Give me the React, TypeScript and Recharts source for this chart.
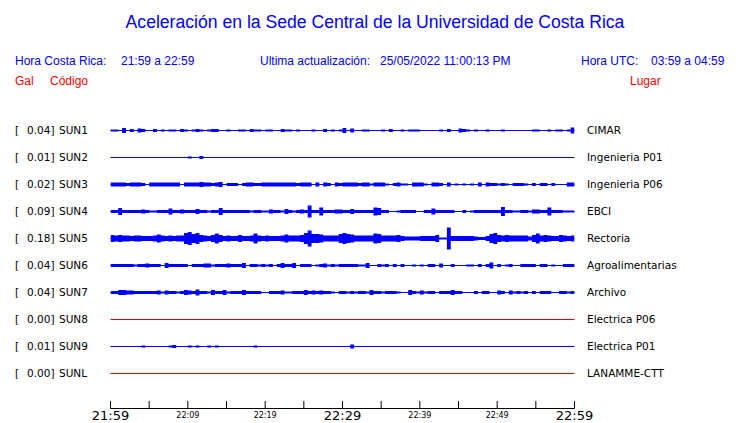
import React from 'react';
import { ComposedChart, Area, XAxis, YAxis, ReferenceLine } from 'recharts';

const STATION_CODES = ['SUN1', 'SUN2', 'SUN3', 'SUN4', 'SUN5', 'SUN6', 'SUN7', 'SUN8', 'SUN9', 'SUNL'];
const PEAK_GAL = ['0.04', '0.01', '0.02', '0.09', '0.18', '0.04', '0.04', '0.00', '0.01', '0.00'];
const PLACES = ['CIMAR', 'Ingenieria P01', 'Ingenieria P06', 'EBCI', 'Rectoria', 'Agroalimentarias', 'Archivo', 'Electrica P06', 'Electrica P01', 'LANAMME-CTT'];
const TRACE_COLORS = ['#0000ff', '#0000ff', '#0000ff', '#0000ff', '#0000ff', '#0000ff', '#0000ff', '#e00000', '#0000ff', '#e00000'];
const ROWS = [0, 1, 2, 3, 4, 5, 6, 7, 8, 9];

const TICK_MINUTES = [0, 5, 10, 15, 20, 25, 30, 35, 40, 45, 50, 55, 60];
const TICK_LABELS = ['21:59', '', '22:09', '', '22:19', '', '22:29', '', '22:39', '', '22:49', '', '22:59'];

// half-amplitude of each trace (display px) in consecutive 0.5-minute bins
const SUN1 = [
  1, 1, 0, 2.5, 0, 1.5, 0, 2, 1.5, 0,
  0, 1.5, 0, 1, 0, 1, 1, 0, 1.5, 1,
  0, 1, 1.5, 1, 0, 1, 1.5, 1.5, 0, 0,
  1, 0, 0, 1, 1, 0, 1.5, 1, 1, 0,
  1, 1, 0, 0, 1.5, 1, 1, 0, 1, 0,
  0, 0, 1, 0, 0, 1.5, 0, 1, 0, 1,
  2.5, 0, 2, 0, 0, 1, 1, 0, 0, 0,
  1, 0, 1.5, 0, 0, 1, 0, 1, 1, 1,
  0, 0, 0, 0, 0, 1, 0, 1.5, 0, 0,
  2, 1.5, 1, 0, 1, 0, 0, 1, 0, 0,
  0, 1, 0, 0, 0, 0, 0, 0, 0, 1,
  1, 0, 0, 1, 0, 1, 1, 0, 1, 3,
];
const SUN2 = [
  0, 0, 0, 0, 0, 0, 0, 0, 0, 0,
  0, 0, 0, 0, 0, 0, 0, 0, 0, 0,
  1, 0, 0, 1.5, 0, 0, 0, 0, 0, 0,
  0, 0, 0, 0, 0, 0, 0, 0, 0, 0,
  0, 0, 0, 0, 0, 0, 0, 0, 0, 0,
  0, 0, 0, 0, 0, 0, 0, 0, 0, 0,
  0, 0, 0, 0, 0, 0, 0, 0, 0, 0,
  0, 0, 0, 0, 0, 0, 0, 0, 0, 0,
  0, 0, 0, 0, 0, 0, 0, 0, 0, 0,
  0, 0, 0, 0, 0, 0, 0, 0, 0, 0,
  0, 0, 0, 0, 0, 0, 0, 0, 0, 0,
  0, 0, 0, 0, 0, 0, 0, 0, 0, 0,
];
const SUN3 = [
  2, 2, 2, 2, 1.5, 2, 2, 2, 1.5, 0,
  2, 2, 2, 2, 2, 2, 2, 2, 0, 2,
  2, 2, 2, 2.5, 2, 2, 1.5, 2, 2.5, 0,
  1.5, 1.5, 1.5, 0, 1.5, 2, 2, 1.5, 1.5, 2,
  2, 2, 2, 2, 2, 2, 2, 2, 1.5, 2,
  2, 2, 0, 2, 0, 2, 1.5, 0, 2, 1.5,
  2, 2, 2, 2, 1.5, 2, 2, 1, 2, 2,
  2, 1, 0, 1.5, 2, 1, 1, 0, 2, 2,
  2, 1, 0, 2, 2, 1.5, 0, 2, 0, 1,
  0, 1, 0, 1, 0, 2, 0, 2, 1.5, 1.5,
  1, 1.5, 1, 0, 1.5, 1.5, 1.5, 1, 0, 1.5,
  0, 1.5, 1.5, 0, 1.5, 0, 0, 0, 2, 2,
];
const SUN4 = [
  1.5, 1.5, 3.5, 1.5, 1.5, 1.5, 1.5, 1.5, 2, 1.5,
  1, 1, 1.5, 1.5, 1.5, 3, 1.5, 1.5, 2, 1.5,
  1.5, 1.5, 2.5, 1.5, 1.5, 1, 1.5, 1.5, 3.5, 1.5,
  1.5, 1.5, 1.5, 1.5, 1.5, 1.5, 1, 1.5, 1.5, 1,
  1, 2, 1.5, 1.5, 1, 2.5, 1.5, 1, 1.5, 2,
  1.5, 6, 1.5, 1.5, 4, 1.5, 1.5, 1.5, 2, 2,
  1.5, 1.5, 2.5, 1.5, 1.5, 1.5, 1.5, 1.5, 4, 3.5,
  1.5, 1.5, 0, 0, 1, 1.5, 1.5, 1.5, 1.5, 0,
  0, 1.5, 1.5, 3, 1.5, 1.5, 1.5, 1.5, 1.5, 0,
  0, 1.5, 0, 1, 1.5, 1.5, 1.5, 1.5, 1.5, 1.5,
  1.5, 4.5, 1.5, 1.5, 1, 1, 1.5, 1.5, 1, 2,
  2, 1.5, 1.5, 4, 1.5, 1.5, 1.5, 1, 1, 1,
];
const SUN5 = [
  3.5, 3, 3.5, 3, 3, 2.5, 3, 3, 2.5, 2.5,
  2.5, 3, 4, 3, 2.5, 3, 2.5, 3, 3, 5.5,
  6.5, 4.5, 5.5, 3.5, 3, 2.5, 3.5, 5, 3.5, 2.5,
  3, 2.5, 2.5, 3.5, 2.5, 2.5, 3, 5, 3, 2.5,
  3, 2.5, 2.5, 2.5, 3, 4, 3, 3, 3, 3.5,
  5.5, 8, 4.5, 4.5, 4, 3, 3, 3, 3, 4.5,
  5.5, 4.5, 4, 3, 3, 3, 3, 3, 5, 4.5,
  3, 3, 3, 3, 3.5, 2.5, 2, 2, 2, 2,
  2.5, 2.5, 2.5, 2.5, 3.5, 1, 1, 11, 2.5, 2.5,
  2.5, 2.5, 2.5, 2.5, 2, 1.5, 1.5, 2.5, 4.5, 5.5,
  3.5, 3, 3.5, 3, 3, 3, 3, 3, 2, 3.5,
  5, 3, 3.5, 3, 2.5, 2.5, 3.5, 3, 2.5, 3,
];
const SUN6 = [
  1.5, 1.5, 1.5, 1.5, 1.5, 1.5, 1, 1.5, 1.5, 2,
  1.5, 1.5, 1.5, 0, 2.5, 1.5, 1.5, 1.5, 1.5, 1.5,
  0, 1.5, 1.5, 1.5, 2, 2, 1, 1.5, 1.5, 1.5,
  2, 1.5, 1.5, 1.5, 2.5, 0, 1.5, 1.5, 1, 1.5,
  1, 1.5, 0, 1.5, 2.5, 1.5, 1.5, 2.5, 0, 1.5,
  1.5, 1.5, 0, 1, 1.5, 2, 1, 1.5, 1, 1.5,
  1.5, 1.5, 1.5, 1.5, 1, 1, 2.5, 0, 0, 1.5,
  1, 1.5, 0, 1.5, 0, 1.5, 0, 0, 1, 0,
  1, 0, 1.5, 1.5, 0, 2, 0, 0, 1.5, 0,
  0, 0, 1, 1, 0, 1.5, 0, 1.5, 3, 0,
  1.5, 0, 1, 1.5, 0, 0, 1.5, 1.5, 1.5, 1.5,
  0, 1.5, 1.5, 0, 1, 0, 0, 1.5, 1.5, 1.5,
];
const SUN7 = [
  1.5, 1.5, 2.5, 2.5, 2, 2, 1.5, 1.5, 1.5, 1.5,
  1.5, 1.5, 2, 1, 2, 1.5, 1.5, 1, 1.5, 2.5,
  2, 1.5, 3, 1.5, 1.5, 1, 2.5, 1.5, 1.5, 2.5,
  1, 1.5, 1.5, 1.5, 2.5, 1.5, 1.5, 1.5, 1.5, 0,
  0, 1.5, 1.5, 1.5, 2, 1, 1, 1.5, 1.5, 1.5,
  2.5, 1.5, 2, 1.5, 2, 1.5, 1.5, 1, 0, 1.5,
  1.5, 1, 1.5, 1, 1.5, 1.5, 1, 2.5, 1.5, 1.5,
  1, 1.5, 1.5, 1.5, 1, 0, 0, 2.5, 1.5, 1,
  2, 1, 1.5, 1.5, 0, 1.5, 1.5, 1.5, 2.5, 1.5,
  1.5, 0, 0, 0, 1.5, 0, 1.5, 1.5, 0, 0,
  2, 1.5, 0, 2, 1, 1.5, 1, 1.5, 0, 1.5,
  0, 1.5, 1.5, 1.5, 0, 0, 1.5, 1.5, 1, 1.5,
];
const SUN8 = [
  0, 0, 0, 0, 0, 0, 0, 0, 0, 0, 0, 0, 0, 0, 0, 0, 0, 0, 0, 0,
  0, 0, 0, 0, 0, 0, 0, 0, 0, 0, 0, 0, 0, 0, 0, 0, 0, 0, 0, 0,
  0, 0, 0, 0, 0, 0, 0, 0, 0, 0, 0, 0, 0, 0, 0, 0, 0, 0, 0, 0,
  0, 0, 0, 0, 0, 0, 0, 0, 0, 0, 0, 0, 0, 0, 0, 0, 0, 0, 0, 0,
  0, 0, 0, 0, 0, 0, 0, 0, 0, 0, 0, 0, 0, 0, 0, 0, 0, 0, 0, 0,
  0, 0, 0, 0, 0, 0, 0, 0, 0, 0, 0, 0, 0, 0, 0, 0, 0, 0, 0, 0,
];
const SUN9 = [
  0, 0, 0, 0, 0, 0, 0, 0, 1, 0,
  0, 0, 0, 0, 0, 1, 1.5, 0, 0, 0,
  1, 0, 1, 0, 0, 1, 0, 1, 0, 0,
  0, 0, 0, 0, 0, 0, 0, 1, 0, 0,
  0, 0, 0, 0, 0, 0, 0, 0, 0, 0,
  0, 0, 0, 0, 0, 0, 0, 0, 0, 0,
  0, 0, 2, 0, 0, 0, 0, 0, 0, 0,
  0, 0, 0, 0, 0, 0, 0, 0, 0, 0,
  0, 0, 0, 0, 0, 0, 0, 0, 0, 0,
  0, 0, 0, 0, 0, 0, 0, 0, 0, 0,
  0, 0, 0, 0, 0, 0, 0, 0, 0, 0,
  0, 0, 0, 0, 0, 0, 0, 0, 0, 0,
];
const SUNL = [
  0, 0, 0, 0, 0, 0, 0, 0, 0, 0, 0, 0, 0, 0, 0, 0, 0, 0, 0, 0,
  0, 0, 0, 0, 0, 0, 0, 0, 0, 0, 0, 0, 0, 0, 0, 0, 0, 0, 0, 0,
  0, 0, 0, 0, 0, 0, 0, 0, 0, 0, 0, 0, 0, 0, 0, 0, 0, 0, 0, 0,
  0, 0, 0, 0, 0, 0, 0, 0, 0, 0, 0, 0, 0, 0, 0, 0, 0, 0, 0, 0,
  0, 0, 0, 0, 0, 0, 0, 0, 0, 0, 0, 0, 0, 0, 0, 0, 0, 0, 0, 0,
  0, 0, 0, 0, 0, 0, 0, 0, 0, 0, 0, 0, 0, 0, 0, 0, 0, 0, 0, 0,
];

const TRACES = [SUN1, SUN2, SUN3, SUN4, SUN5, SUN6, SUN7, SUN8, SUN9, SUNL];
const BIN_MINUTES = 0.5;
const ROW_PX = 27; // px between trace rows

const chartData = Array.from({ length: SUN1.length + 1 }, (_, j) => {
  const d: any = { t: j * BIN_MINUTES };
  TRACES.forEach((tr, s) => {
    const a = tr[Math.min(j, tr.length - 1)] / ROW_PX;
    d['s' + s] = [s - a, s + a];
  });
  return d;
});

const LABEL_FONT = '"DejaVu Sans", sans-serif';
const HEAD_FONT = '"Liberation Sans", Arial, sans-serif';

const LeftTick = (props: any) => {
  const { x, y, payload } = props;
  const i = ROWS.indexOf(payload.value);
  if (i < 0) return null;
  return (
    <g fontFamily={LABEL_FONT} fontSize={10.5} fill="#000">
      <text x={x - 95.5} y={y + 3.7}>[</text>
      <text x={x - 83.5} y={y + 3.7}>{PEAK_GAL[i] + ']'}</text>
      <text x={x - 51.5} y={y + 3.7}>{STATION_CODES[i]}</text>
    </g>
  );
};

const RightTick = (props: any) => {
  const { x, y, payload } = props;
  const i = ROWS.indexOf(payload.value);
  if (i < 0) return null;
  return (
    <text x={x + 12.5} y={y + 3.7} fontFamily={LABEL_FONT} fontSize={10.5} fill="#000">
      {PLACES[i]}
    </text>
  );
};

const TimeTick = (props: any) => {
  const { x, y, payload } = props;
  const i = TICK_MINUTES.indexOf(payload.value);
  const big = payload.value % 30 === 0;
  return (
    <g>
      <line x1={x} x2={x} y1={y - 7.5} y2={y} stroke="#000" strokeWidth={1} />
      {TICK_LABELS[i] ? (
        <text
          x={x}
          y={y + (big ? 11.5 : 9)}
          textAnchor="middle"
          fontFamily={LABEL_FONT}
          fontSize={big ? 13 : 8}
          fill="#000"
        >
          {TICK_LABELS[i]}
        </text>
      ) : null}
    </g>
  );
};

const txt = (s: string, left: number, top: number, color: string, size = 12) => (
  <div
    key={s + left}
    style={{
      position: 'absolute',
      left,
      top,
      fontFamily: HEAD_FONT,
      fontSize: size,
      lineHeight: `${size}px`,
      color,
      whiteSpace: 'pre',
    }}
  >
    {s}
  </div>
);

export default function App() {
  return (
    <div style={{ position: 'fixed', left: 0, top: 0, width: 740, height: 423, background: '#fff' }}>
      <div
        style={{
          position: 'absolute',
          left: 0,
          top: 13,
          width: 750,
          textAlign: 'center',
          fontFamily: HEAD_FONT,
          fontSize: 17.6,
          lineHeight: '18px',
          color: '#0000ff',
        }}
      >
        Aceleración en la Sede Central de la Universidad de Costa Rica
      </div>
      {txt('Hora Costa Rica:', 15, 54.7, '#0000ff')}
      {txt('21:59 a 22:59', 121, 54.7, '#0000ff')}
      {txt('Ultima actualización:', 260, 54.7, '#0000ff')}
      {txt('25/05/2022 11:00:13 PM', 380, 54.7, '#0000ff')}
      {txt('Hora UTC:', 581, 54.7, '#0000ff')}
      {txt('03:59 a 04:59', 651, 54.7, '#0000ff')}
      {txt('Gal', 15, 74.7, '#ff0000')}
      {txt('Código', 50, 74.7, '#ff0000')}
      {txt('Lugar', 630, 74.7, '#ff0000')}
      <div style={{ position: 'absolute', left: 0, top: 0 }}>
        <ComposedChart
          width={740}
          height={423}
          data={chartData}
          margin={{ top: 103.5, right: 0.5, bottom: 0, left: 0.5 }}
        >
          <XAxis
            dataKey="t"
            type="number"
            domain={[0, 60]}
            ticks={TICK_MINUTES}
            interval={0}
            height={14.5}
            tickSize={0}
            tickMargin={0}
            tickLine={false}
            axisLine={{ stroke: '#000', strokeWidth: 1 }}
            tick={<TimeTick />}
            allowDataOverflow
          />
          <YAxis
            yAxisId="left"
            type="number"
            domain={[-1, 10.296]}
            reversed
            allowDataOverflow
            ticks={ROWS}
            interval={0}
            width={110}
            tickSize={0}
            tickMargin={0}
            axisLine={false}
            tickLine={false}
            tick={<LeftTick />}
          />
          <YAxis
            yAxisId="right"
            orientation="right"
            type="number"
            domain={[-1, 10.296]}
            reversed
            allowDataOverflow
            ticks={ROWS}
            interval={0}
            width={165}
            tickSize={0}
            tickMargin={0}
            axisLine={false}
            tickLine={false}
            tick={<RightTick />}
          />
          {ROWS.map((r) => (
            <ReferenceLine
              key={'base' + r}
              yAxisId="left"
              y={r}
              stroke={TRACE_COLORS[r]}
              strokeWidth={1}
            />
          ))}
          {ROWS.map((r) => (
            <Area
              key={'trace' + r}
              yAxisId="left"
              dataKey={'s' + r}
              type="stepAfter"
              stroke="none"
              fill={TRACE_COLORS[r]}
              fillOpacity={1}
              isAnimationActive={false}
              dot={false}
              activeDot={false}
            />
          ))}
        </ComposedChart>
      </div>
    </div>
  );
}
